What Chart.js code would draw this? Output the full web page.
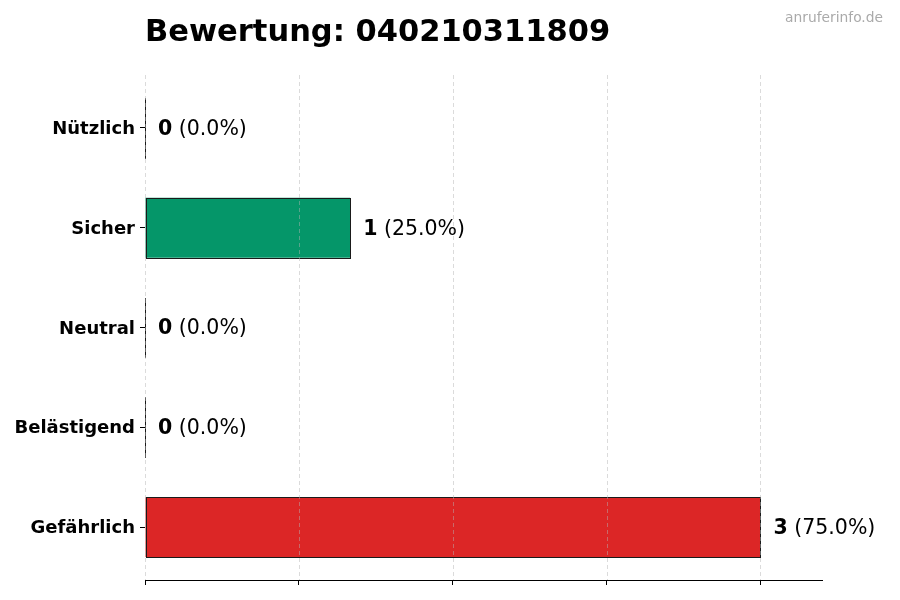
<!DOCTYPE html>
<html><head><meta charset="utf-8">
<script src="https://cdn.jsdelivr.net/npm/chart.js@4"></script>
<style>html,body{margin:0;padding:0;background:#fff}#wrap{width:900px;height:600px}</style>
</head><body><div id="wrap"><canvas id="c" width="900" height="600"></canvas></div>
<script>
const categories = ["Nützlich", "Sicher", "Neutral", "Belästigend", "Gefährlich"];
const counts = [0, 1, 0, 0, 3];
const percents = ["0.0%", "25.0%", "0.0%", "0.0%", "75.0%"];
const barColors = ["#9ca3af", "#059669", "#6b7280", "#f59e0b", "#dc2626"];
const xTicks = [0, 0.75, 1.5, 2.25, 3];
const titleText = "Bewertung: 040210311809";
const watermark = "anruferinfo.de";
const FONT = "'DejaVu Sans', sans-serif";

const overlay = {
  id: 'overlay',
  afterDatasetsDraw(chart) {
    const ctx = chart.ctx, ca = chart.chartArea, xs = chart.scales.x;
    ctx.save();
    const meta = chart.getDatasetMeta(0);
    // bar outlines
    ctx.strokeStyle = '#1a1a1a'; ctx.lineWidth = 1;
    meta.data.forEach((bar) => {
      const h = bar.height;
      const l = Math.round(bar.base) + 0.5, r = Math.round(bar.x) + 0.5;
      const t = Math.round(bar.y - h / 2) + 0.5, b = Math.round(bar.y + h / 2) + 0.5;
      ctx.strokeRect(l, t, r - l, b - t);
    });
    // dashed grid lines over bars
    ctx.strokeStyle = 'rgba(180,180,180,0.6)';
    ctx.lineWidth = 0.8;
    ctx.setLineDash([4, 3]);
    xTicks.forEach(v => {
      const px = Math.round(xs.getPixelForValue(v)) + 0.5;
      ctx.beginPath(); ctx.moveTo(px, ca.top); ctx.lineTo(px, ca.bottom); ctx.stroke();
    });
    ctx.setLineDash([]);
    // value labels
    meta.data.forEach((bar, i) => {
      const x0 = bar.x + 13, y0 = bar.y + 1.5;
      ctx.textBaseline = 'middle'; ctx.textAlign = 'left'; ctx.fillStyle = '#000';
      ctx.font = "bold 20.5px " + FONT;
      const numTxt = String(counts[i]);
      ctx.fillText(numTxt, x0, y0);
      const w = ctx.measureText(numTxt).width;
      ctx.font = "20.5px " + FONT;
      ctx.fillText(" (" + percents[i] + ")", x0 + w, y0);
    });
    // title & watermark
    ctx.textBaseline = 'alphabetic';
    ctx.font = "bold 30.5px " + FONT; ctx.fillStyle = '#000'; ctx.textAlign = 'left';
    ctx.fillText(titleText, ca.left, 41);
    ctx.font = "13.8px " + FONT; ctx.fillStyle = '#aaaaaa'; ctx.textAlign = 'right';
    ctx.fillText(watermark, 883, 22);
    ctx.restore();
  }
};

new Chart(document.getElementById('c'), {
  type: 'bar',
  data: {
    datasets: [{
      data: counts.map((c, i) => ({ x: c, y: i })),
      backgroundColor: barColors,
      borderWidth: 0,
      barPercentage: 0.6,
      categoryPercentage: 1.0
    }]
  },
  options: {
    indexAxis: 'y',
    responsive: false,
    animation: false,
    devicePixelRatio: 1,
    layout: { padding: { top: 75, right: 78, bottom: 0, left: 0 } },
    plugins: { legend: { display: false }, tooltip: { enabled: false }, title: { display: false } },
    scales: {
      x: {
        type: 'linear',
        min: 0, max: 3.3,
        afterBuildTicks(scale) { scale.ticks = xTicks.map(v => ({ value: v })); },
        ticks: { display: false },
        grid: { drawOnChartArea: false, drawTicks: true, tickLength: 5, color: '#000', lineWidth: 1 },
        border: { display: true, color: '#000', width: 1 },
        afterFit(scale) { scale.height = 20; }
      },
      y: {
        type: 'linear',
        reverse: true,
        min: -0.53, max: 4.53,
        offset: false,
        afterBuildTicks(scale) { scale.ticks = categories.map((c, i) => ({ value: i })); },
        ticks: { color: '#000', font: { family: FONT, size: 18, weight: 'bold' }, padding: 5,
                 labelOffset: 1.5, callback: (v) => categories[v] },
        grid: { offset: false, drawOnChartArea: false, drawTicks: true, tickLength: 5, color: '#000', lineWidth: 1 },
        border: { display: false },
        afterFit(scale) { scale.width = 145; }
      }
    }
  },
  plugins: [overlay]
});
</script>
</body></html>
